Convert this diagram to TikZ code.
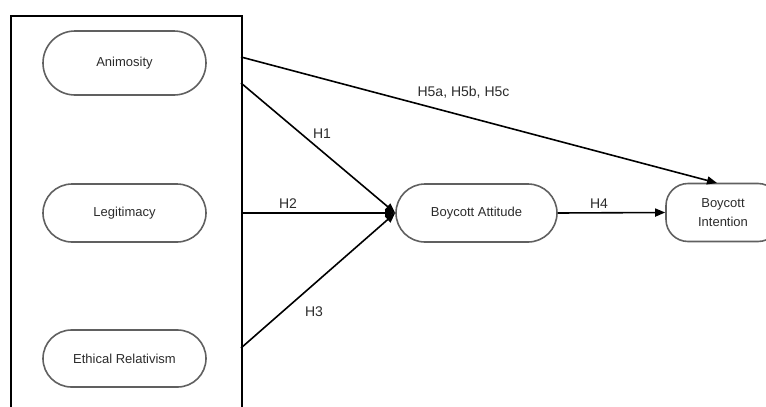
\documentclass[tikz,border=0pt]{standalone}
\usepackage{fontspec}
\setmainfont{Liberation Sans}
\usetikzlibrary{arrows.meta}
\definecolor{txt}{HTML}{2B2B2B}
\definecolor{pillc}{HTML}{606060}
\begin{document}
\begin{tikzpicture}[x=1pt,y=-1pt,
  pill/.style={draw=pillc, line width=1.6pt, rounded corners=29pt, minimum width=163pt, minimum height=58pt, inner sep=0pt, text=txt, font=\fontsize{13}{19}\selectfont, align=center},
  lbl/.style={text=txt, font=\fontsize{14}{16}\selectfont, inner sep=0pt},
  arr/.style={line width=1.6pt, -{Triangle[length=10pt,width=8pt]}},
  ]
\useasboundingbox (0,0) rectangle (766,407);
\clip (0,0) rectangle (766,407);
\node[draw, line width=2.2pt, minimum width=231pt, minimum height=420pt, inner sep=0pt, anchor=north west] (box) at (10,15) {};
\node[pill, minimum height=64pt, rounded corners=32pt] (ani) at (124.5,63) {Animosity};
\node[pill] (leg) at (124.5,213) {Legitimacy};
\node[pill, minimum height=57pt, rounded corners=28.5pt] (eth) at (124.5,358.5) {Ethical Relativism};
\node[pill, minimum width=161pt] (ba) at (476.5,213) {Boycott Attitude};
\node[pill, minimum width=114pt, rounded corners=22pt] (bi) at (723,212.5) {Boycott\\Intention};
\coordinate (s5) at (241,57);
\coordinate (s1) at (241,83);
\coordinate (s2) at (241,213);
\coordinate (s3) at (241,348);
\coordinate (t5) at (717,183);
\draw[arr] (s5) -- (t5);
\draw[arr] (s1) -- (ba.west);
\draw[arr] (s2) -- (ba.west);
\draw[arr] (s3) -- (ba.west);
\draw[arr] (ba.east) -- (bi.west);
\node[lbl] (h5) at (463.5,92) {H5a, H5b, H5c};
\node[lbl] (h1) at (322,134) {H1};
\node[lbl] (h2) at (288,204) {H2};
\node[lbl] (h3) at (314,312) {H3};
\node[lbl] (h4) at (599,204) {H4};
\end{tikzpicture}
\end{document}
